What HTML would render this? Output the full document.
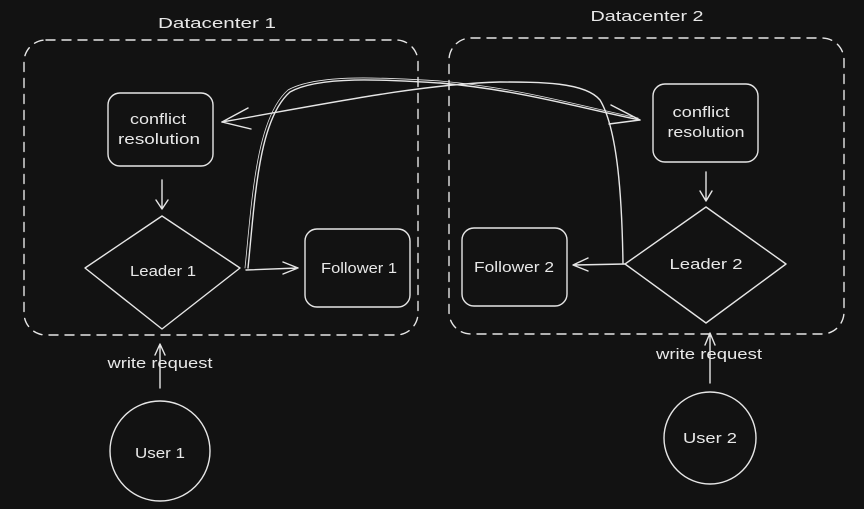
<!DOCTYPE html>
<html><head><style>
html,body{margin:0;padding:0;background:#121212;}
svg{display:block}
text{font-family:"Liberation Sans",sans-serif;fill:#e8e8e8;font-size:15px;text-anchor:middle;}
</style></head><body>
<svg width="864" height="509" viewBox="0 0 864 509" xmlns="http://www.w3.org/2000/svg">
<rect width="864" height="509" fill="#121212"/>
<g fill="none" stroke="#e6e6e6" stroke-width="1.4" stroke-linecap="round" stroke-linejoin="round">
<rect x="24" y="40" width="394" height="295" rx="22" stroke-dasharray="9 7"/>
<rect x="449" y="38" width="395" height="296" rx="22" stroke-dasharray="9 7"/>
<rect x="108" y="93" width="105" height="73" rx="12"/>
<rect x="653" y="84" width="105" height="78" rx="12"/>
<rect x="305" y="229" width="105" height="78" rx="12"/>
<rect x="462" y="228" width="105" height="78" rx="12"/>
<path d="M162 216 L240 268 L162 329 L85 268 Z"/>
<path d="M706 207 L786 264 L706 323 L625 264 Z"/>
<circle cx="160" cy="451" r="50"/>
<circle cx="710" cy="438" r="46"/>
<path d="M162 180 L162 208 M156 200 L162 209 L168 200"/>
<path d="M706 172 L706 200 M700 191 L706 201 L712 191"/>
<path d="M246 270 L298 268 M283 262 L298 268 L283 274"/>
<path d="M625 264 L574 265 M588 258 L573 265 L588 271"/>
<path d="M160 388 L160 345 M155 355 L160 344 L165 355"/>
<path d="M710 383 L710 335 M705 345 L710 333 L715 345"/>
<path d="M248 268 C255 200 258 120 290 92 C320 75 390 80 440 83 C520 90 580 108 640 120"/>
<path d="M245 268 C252 200 256 118 288 90 C318 73 390 78 440 81 C520 88 580 106 638 118" stroke-width="0.8"/>
<path d="M640 120 L611 105 M640 120 L609 124"/>
<path d="M623 264 C622 200 618 130 600 100 C585 82 540 82 500 82 C420 84 320 105 222 122"/>
<path d="M222 122 L248 108 M222 122 L251 129"/>
</g>
<text x="217" y="28" textLength="118" lengthAdjust="spacingAndGlyphs">Datacenter 1</text>
<text x="647" y="21" textLength="113" lengthAdjust="spacingAndGlyphs">Datacenter 2</text>
<text x="158" y="124" textLength="56" lengthAdjust="spacingAndGlyphs">conflict</text>
<text x="159" y="144" textLength="82" lengthAdjust="spacingAndGlyphs">resolution</text>
<text x="701" y="117" textLength="57" lengthAdjust="spacingAndGlyphs">conflict</text>
<text x="706" y="137" textLength="77" lengthAdjust="spacingAndGlyphs">resolution</text>
<text x="163" y="276" textLength="66" lengthAdjust="spacingAndGlyphs">Leader 1</text>
<text x="706" y="269" textLength="73" lengthAdjust="spacingAndGlyphs">Leader 2</text>
<text x="359" y="273" textLength="76" lengthAdjust="spacingAndGlyphs">Follower 1</text>
<text x="514" y="272" textLength="80" lengthAdjust="spacingAndGlyphs">Follower 2</text>
<text x="160" y="368" textLength="105" lengthAdjust="spacingAndGlyphs">write request</text>
<text x="709" y="359" textLength="106" lengthAdjust="spacingAndGlyphs">write request</text>
<text x="160" y="458" textLength="50" lengthAdjust="spacingAndGlyphs">User 1</text>
<text x="710" y="443" textLength="54" lengthAdjust="spacingAndGlyphs">User 2</text>
</svg>
</body></html>
